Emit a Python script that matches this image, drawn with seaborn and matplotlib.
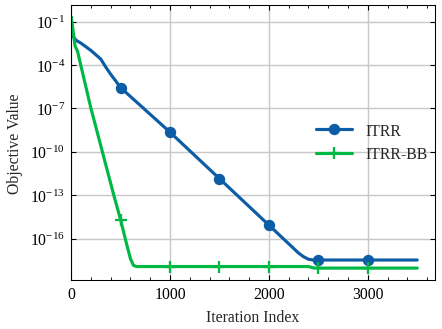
import numpy as np
import pandas as pd
import matplotlib
matplotlib.use("Agg")
import matplotlib.pyplot as plt
import matplotlib.ticker as mticker
import seaborn as sns

# values (log10 of the objective value)
itrr_iter = [0, 15, 50, 100, 150, 200, 250, 300, 350, 400, 450, 500, 1000,
             1500, 2000, 2300, 2350, 2400, 2450, 2500, 3000, 3500]
itrr_log = [-0.7, -2.0, -2.3, -2.5, -2.75, -3.0, -3.3, -3.6, -4.15, -4.65,
            -5.1, -5.57, -8.65, -11.86, -15.07, -17.0, -17.25, -17.43,
            -17.48, -17.48, -17.48, -17.48]

bb_iter = [0, 40, 64, 200, 431, 500, 563, 600, 630, 660, 1000, 1500, 2000,
           2400, 2450, 2500, 3000, 3500]
bb_log = [-0.7, -2.7, -3.05, -7.0, -13.0, -14.7, -16.44, -17.4, -17.85,
          -17.93, -17.93, -17.93, -17.93, -17.93, -18.03, -18.04, -18.04,
          -18.04]

marker_iters = [500, 1000, 1500, 2000, 2500, 3000]
ytick_exp = [-1, -4, -7, -10, -13, -16]

itrr = pd.DataFrame({"iter": itrr_iter, "val": 10.0 ** np.array(itrr_log)})
bb = pd.DataFrame({"iter": bb_iter, "val": 10.0 ** np.array(bb_log)})

sns.set_theme(style="ticks")
plt.rcParams["font.family"] = ["Liberation Serif", "DejaVu Serif"]
plt.rcParams["mathtext.fontset"] = "stix"
plt.rcParams["font.size"] = 9
plt.rcParams["xtick.direction"] = "in"
plt.rcParams["ytick.direction"] = "in"

fig, ax = plt.subplots(figsize=(3.5, 2.6125), dpi=126.3)

blue = "#0C5DA5"
green = "#00B945"
sns.lineplot(data=itrr, x="iter", y="val", ax=ax, color=blue,
             linewidth=1.8, marker="o", markersize=6.5, markeredgewidth=0,
             markerfacecolor=blue, markeredgecolor=blue,
             markevery=[itrr_iter.index(m) for m in marker_iters],
             label="ITRR")
sns.lineplot(data=bb, x="iter", y="val", ax=ax, color=green,
             linewidth=1.8, marker="+", markersize=6.5, markeredgewidth=1.3,
             markerfacecolor=green, markeredgecolor=green,
             markevery=[bb_iter.index(m) for m in marker_iters],
             label="ITRR-BB")

ax.set_yscale("log")
ax.set_xlim(0, 3675)
ax.set_ylim(10 ** -18.85, 10 ** 0.12)
ax.yaxis.set_major_locator(mticker.FixedLocator([10.0 ** e for e in ytick_exp]))
ax.yaxis.set_major_formatter(mticker.LogFormatterSciNotation())
ax.yaxis.set_minor_locator(mticker.NullLocator())
ax.xaxis.set_major_locator(mticker.MultipleLocator(1000))
ax.xaxis.set_minor_locator(mticker.MultipleLocator(200))

ax.tick_params(which="both", direction="in", top=True, right=True,
               labelsize=9, colors="black")
ax.tick_params(which="major", length=3, width=0.6)
ax.tick_params(which="minor", length=1.6, width=0.5)
for s in ax.spines.values():
    s.set_color("black")
    s.set_linewidth(0.6)

ax.grid(True, which="major", color="#c8c8c8", linewidth=0.8)
ax.set_xlabel("Iteration Index", fontsize=9)
ax.set_ylabel("Objective Value", fontsize=9)

ax.legend(loc="center left", bbox_to_anchor=(0.635, 0.5), frameon=False,
          fontsize=9, handlelength=2.3, labelspacing=0.45)

fig.subplots_adjust(left=0.161, right=0.983, top=0.981, bottom=0.149)
fig.savefig("out.png", dpi=126.3)
